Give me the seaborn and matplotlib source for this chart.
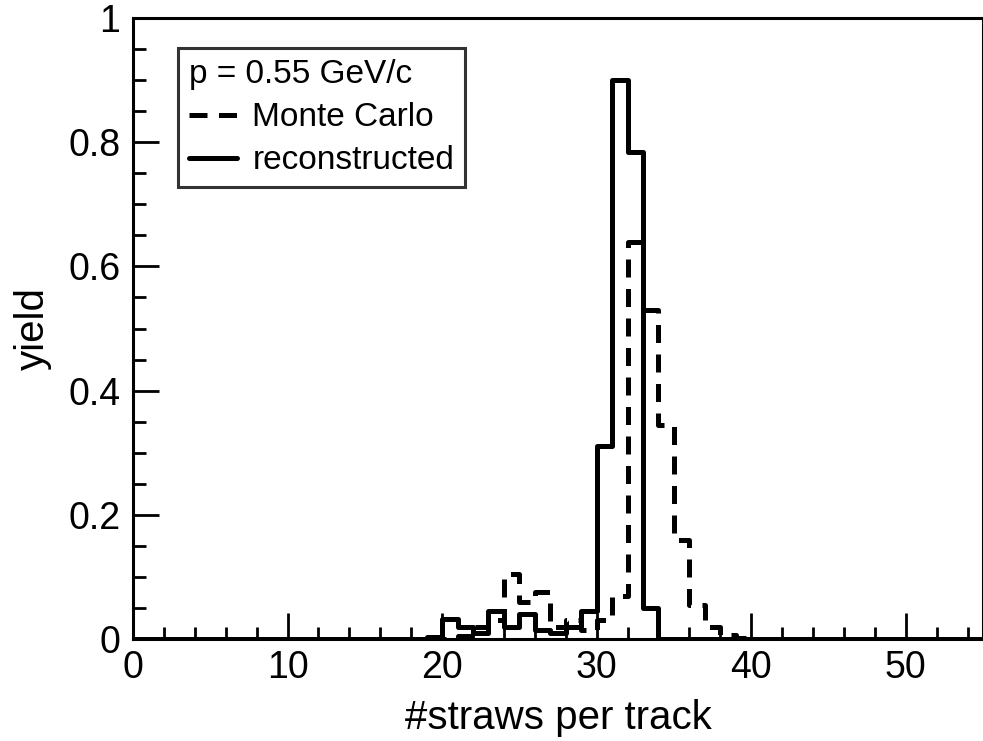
import numpy as np
import matplotlib
matplotlib.use("Agg")
import matplotlib.pyplot as plt
import seaborn as sns
from matplotlib.lines import Line2D
from matplotlib.ticker import MultipleLocator

# bin edges 0..55 (width 1)
bin_edges = list(range(0, 56))

# reconstructed (solid) yield per bin, bins 0-1 ... 54-55
reconstructed = [0, 0, 0, 0, 0, 0, 0, 0, 0, 0,
                 0, 0, 0, 0, 0, 0, 0, 0, 0, 0.003,
                 0.033, 0.02, 0.01, 0.045, 0.02, 0.04, 0.015, 0.01, 0.02, 0.045,
                 0.31, 0.90, 0.785, 0.05, 0, 0, 0, 0, 0, 0,
                 0, 0, 0, 0, 0, 0, 0, 0, 0, 0,
                 0, 0, 0, 0, 0]

# Monte Carlo (dashed) yield per bin
monte_carlo = [0, 0, 0, 0, 0, 0, 0, 0, 0, 0,
               0, 0, 0, 0, 0, 0, 0, 0, 0, 0,
               0.0, 0.005, 0.02, 0.03, 0.105, 0.06, 0.075, 0.02, 0.03, 0.015,
               0.03, 0.07, 0.64, 0.53, 0.345, 0.16, 0.055, 0.02, 0.007, 0.002,
               0, 0, 0, 0, 0, 0, 0, 0, 0, 0,
               0, 0, 0, 0, 0]

x_ticks = [0, 10, 20, 30, 40, 50]
y_ticks = [0, 0.2, 0.4, 0.6, 0.8, 1.0]
y_tick_labels = ["0", "0.2", "0.4", "0.6", "0.8", "1"]

sns.set_style("ticks")
plt.rcParams["font.family"] = ["Liberation Sans", "DejaVu Sans"]
plt.rcParams["text.color"] = "black"
plt.rcParams["axes.labelcolor"] = "black"
plt.rcParams["xtick.color"] = "black"
plt.rcParams["ytick.color"] = "black"

fig = plt.figure(figsize=(9.83, 7.41), dpi=100)
ax = fig.add_axes([133 / 983, 102 / 741, 850 / 983, 621 / 741])

centers = [(bin_edges[i] + bin_edges[i + 1]) / 2 for i in range(len(bin_edges) - 1)]
lw = 3.6
dash = (0, (3.6, 2.3))

n_before = len(ax.lines) + len(ax.patches)
sns.histplot(x=centers, weights=monte_carlo, bins=bin_edges, element="step",
             fill=False, color="black", linewidth=lw, ax=ax)
for art in (list(ax.lines) + list(ax.patches))[n_before:]:
    art.set_linestyle(dash)

sns.histplot(x=centers, weights=reconstructed, bins=bin_edges, element="step",
             fill=False, color="black", linewidth=lw, ax=ax)

ax.set_xlim(0, 55)
ax.set_ylim(0, 1)
ax.set_xticks(x_ticks)
ax.set_yticks(y_ticks)
ax.set_yticklabels(y_tick_labels)
ax.xaxis.set_minor_locator(MultipleLocator(2))
ax.yaxis.set_minor_locator(MultipleLocator(0.05))
ax.tick_params(which="both", direction="in", top=False, right=False, width=2,
               labelsize=27, color="black", labelcolor="black")
ax.tick_params(which="major", length=19)
ax.tick_params(which="minor", length=9)
ax.tick_params(axis="y", which="both", pad=9)
ax.tick_params(axis="x", which="both", pad=8)
ax.set_xlabel("#straws per track", fontsize=29, labelpad=9, color="black")
ax.set_ylabel("yield", fontsize=29, labelpad=12, color="black")
for s in ax.spines.values():
    s.set_linewidth(2.2)
    s.set_color("black")

handles = [Line2D([], [], color="black", lw=lw, linestyle=dash),
           Line2D([], [], color="black", lw=lw)]
leg = ax.legend(handles, ["Monte Carlo", "reconstructed"], title="p = 0.55 GeV/c",
                alignment="left", loc="upper left", bbox_to_anchor=(0.053, 0.952),
                fontsize=24, title_fontsize=24, frameon=True, fancybox=False,
                handlelength=1.45, handletextpad=0.45, borderpad=0.33,
                labelspacing=0.36, borderaxespad=0)
leg.get_frame().set_edgecolor("black")
leg.get_frame().set_linewidth(2.2)
leg._legend_box.sep = 9

fig.savefig("out.png", dpi=100)
